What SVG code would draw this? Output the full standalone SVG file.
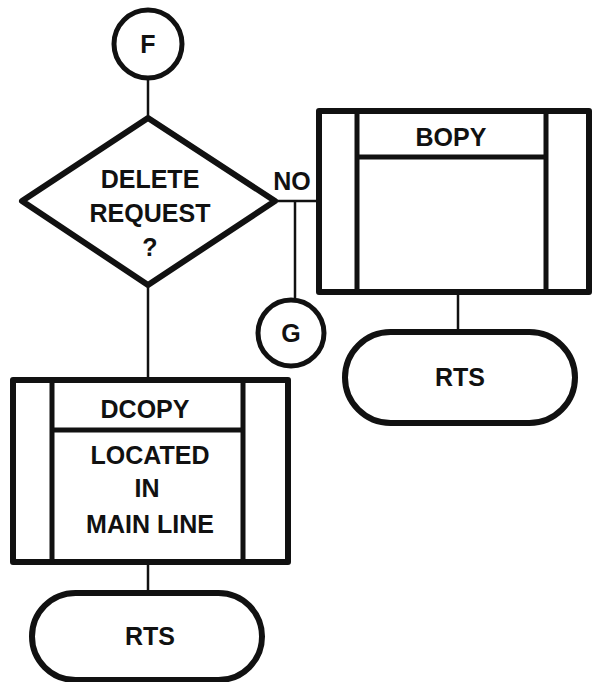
<svg xmlns="http://www.w3.org/2000/svg" width="593" height="682" viewBox="0 0 593 682">
<style>
.t{font-family:"Liberation Sans",Arial,sans-serif;font-weight:bold;font-size:25px;fill:#111;text-anchor:middle}
.thick{fill:none;stroke:#111;stroke-width:6;stroke-linejoin:round}
.circ{fill:#fff;stroke:#111;stroke-width:5}
.inner{fill:none;stroke:#111;stroke-width:5}
.conn{fill:none;stroke:#111;stroke-width:2.5}
</style>
<rect width="593" height="682" fill="#fff"/>
<g id="connectors">
<line class="conn" x1="148" y1="79" x2="148" y2="118"/>
<line class="conn" x1="148" y1="285" x2="148" y2="380"/>
<line class="conn" x1="275" y1="201" x2="318" y2="201"/>
<line class="conn" x1="295" y1="201" x2="295" y2="298"/>
<line class="conn" x1="458" y1="292" x2="458" y2="332"/>
<line class="conn" x1="148" y1="562" x2="148" y2="593"/>
<text class="t" x="292" y="190">NO</text>
</g>
<g id="F">
<circle class="circ" cx="148" cy="44" r="34"/>
<text class="t" x="148" y="53">F</text>
</g>
<g id="decision">
<polygon class="thick" points="148,118 275,201 148,285 22,201"/>
<text class="t" x="150" y="188">DELETE</text>
<text class="t" x="150" y="222">REQUEST</text>
<text class="t" x="150" y="256">?</text>
</g>
<g id="G">
<circle class="circ" cx="291" cy="333" r="33"/>
<text class="t" x="291" y="342">G</text>
</g>
<g id="bopy">
<rect class="thick" x="319" y="111" width="270" height="181"/>
<line class="inner" x1="357" y1="111" x2="357" y2="292"/>
<line class="inner" x1="546" y1="111" x2="546" y2="292"/>
<line class="inner" x1="357" y1="157" x2="546" y2="157"/>
<text class="t" x="451" y="146">BOPY</text>
</g>
<g id="rts1">
<rect class="thick" x="345" y="332" width="230" height="91" rx="45.5"/>
<text class="t" x="460" y="386">RTS</text>
</g>
<g id="dcopy">
<rect class="thick" x="13" y="380" width="275" height="182"/>
<line class="inner" x1="52" y1="380" x2="52" y2="562"/>
<line class="inner" x1="243" y1="380" x2="243" y2="562"/>
<line class="inner" x1="52" y1="430" x2="243" y2="430"/>
<text class="t" x="145" y="418">DCOPY</text>
<text class="t" x="150" y="464">LOCATED</text>
<text class="t" x="147" y="497">IN</text>
<text class="t" x="150" y="533">MAIN LINE</text>
</g>
<g id="rts2">
<rect class="thick" x="32" y="593" width="230" height="87" rx="43.5"/>
<text class="t" x="150" y="645">RTS</text>
</g>
</svg>
